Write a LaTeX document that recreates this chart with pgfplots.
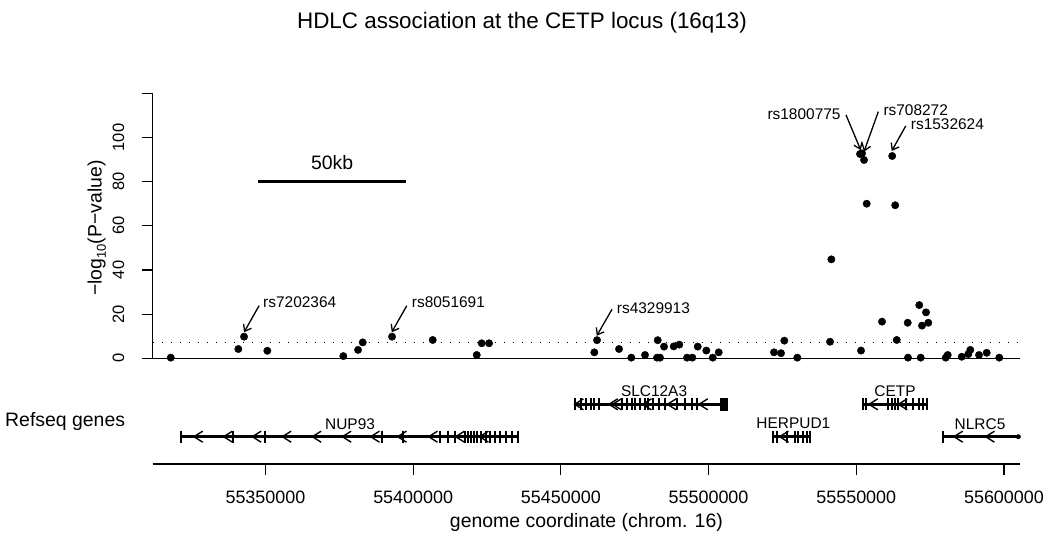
\documentclass[border=0pt]{standalone}
\usepackage{pgfplots}
\pgfplotsset{compat=1.18}
\usepackage{fontspec}
\setmainfont{Liberation Sans}
\usetikzlibrary{arrows.meta}
\pgfdeclareplotmark{chev}{%
  \pgfpathmoveto{\pgfqpoint{0.8\pgfplotmarksize}{\pgfplotmarksize}}%
  \pgfpathlineto{\pgfqpoint{-0.8\pgfplotmarksize}{0pt}}%
  \pgfpathlineto{\pgfqpoint{0.8\pgfplotmarksize}{-\pgfplotmarksize}}%
  \pgfusepathqstroke}
\newcommand{\fs}[1]{\fontsize{#1}{#1}\selectfont}
\begin{document}
\begin{tikzpicture}
\useasboundingbox (0bp,0bp) rectangle (1050bp,543bp);
% ---------------- top panel ----------------
\begin{axis}[
  at={(152.6bp,184.7bp)}, anchor=south west,
  scale only axis, width=867.6bp, height=265bp,
  xmin=55311800, xmax=55605500, ymin=0, ymax=120,
  scaled x ticks=false, scaled y ticks=false,
  axis x line=none, axis y line*=left,
  y axis line style={-, line width=1.2bp},
  ytick={0,20,40,60,80,100,120}, yticklabels={0,20,40,60,80,100,{}},
  tick align=outside, major tick length=11bp,
  ytick style={line width=1.2bp, black},
  yticklabel style={rotate=90, anchor=south, inner xsep=0pt, inner ysep=17bp, font=\fs{16.5}},
  ylabel={\char"2212 log\raisebox{-0.22em}{\fs{13}10}(P\char"2212 value)},
  ylabel style={at={(axis description cs:-0.0644,0.4917)}, anchor=center, font=\fs{19.5}},
  clip=false,
]
\addplot[line width=1.3bp, black] coordinates {(55311800,0) (55605500,0)};
\addplot[line width=1.2bp, black, dash pattern=on 1.3bp off 7.7bp] coordinates {(55311800,7.3) (55605500,7.3)};
% 50kb scale bar
\addplot[line width=2.6bp, black] coordinates {(55347600,80) (55397600,80)};
\node[font=\fs{19.5}, inner sep=0pt] at (axis cs:55372600,88.6) {50kb};
% association points
\addplot[only marks, mark=*, mark size=3.7bp, black] coordinates {
(55317944,0.3) (55340826,4.2) (55342756,9.8) (55350643,3.4) (55376370,1.0)
(55381345,3.8) (55382935,7.2) (55392854,9.8) (55406630,8.3) (55421525,1.5)
(55423218,6.8) (55425700,6.8) (55461334,2.7) (55462247,8.2) (55469694,4.2)
(55473857,0.3) (55478495,1.5) (55482794,8.2) (55482557,0.3) (55483573,0.3)
(55484926,5.3) (55488210,5.4) (55490106,6.2) (55492713,0.3) (55494507,0.3)
(55496335,5.3) (55499247,3.5) (55501413,0.3) (55503444,2.7) (55522161,2.7)
(55524531,2.3) (55525648,8.0) (55530048,0.3) (55541121,7.5) (55541572,44.8)
(55551270,92.5) (55551947,92.8) (55552624,89.8) (55553527,70.0) (55551609,3.5)
(55562169,91.6) (55563185,69.3) (55558723,16.6) (55563693,8.3) (55567513,0.3)
(55567412,16.1) (55571340,24.1) (55573614,20.8) (55572259,14.8) (55574394,16.1)
(55571815,0.3) (55580283,0.3) (55580960,1.5) (55585699,0.7) (55587933,1.9)
(55588610,3.8) (55591555,1.5) (55594157,2.5) (55598422,0.3)
};
% annotations
\begin{scope}[line width=1.3bp, -{Straight Barb[length=6bp,width=9bp]}]
\draw (axis cs:55347834,23.8) -- (axis cs:55342756,11.8);
\draw (axis cs:55397830,23.8) -- (axis cs:55392752,11.8);
\draw (axis cs:55467327,22.2) -- (axis cs:55462148,10.2);
\draw (axis cs:55546533,110.2) -- (axis cs:55551509,94.3);
\draw (axis cs:55557465,111.7) -- (axis cs:55552625,93.6);
\draw (axis cs:55566742,105.2) -- (axis cs:55562003,93.9);
\end{scope}
\begin{scope}[font=\fs{15.5}, inner sep=0pt]
\node[anchor=west] at (axis cs:55349188,25.5) {rs7202364};
\node[anchor=west] at (axis cs:55399523,25.5) {rs8051691};
\node[anchor=west] at (axis cs:55468919,22.9) {rs4329913};
\node[anchor=east] at (axis cs:55544742,110.5) {rs1800775};
\node[anchor=west] at (axis cs:55559159,112.5) {rs708272};
\node[anchor=west] at (axis cs:55568436,106) {rs1532624};
\end{scope}
\end{axis}
% ---------------- bottom panel (genes) ----------------
\begin{axis}[
  at={(152.6bp,79bp)}, anchor=south west,
  scale only axis, width=867.6bp, height=89bp,
  xmin=55311800, xmax=55605500, ymin=0, ymax=89,
  scaled x ticks=false,
  axis y line=none, axis x line*=bottom,
  x axis line style={-, line width=1.2bp},
  xtick={55350000,55400000,55450000,55500000,55550000,55600000},
  xticklabels={55350000,55400000,55450000,55500000,55550000,55600000},
  tick align=outside, major tick length=11bp,
  xtick style={line width=1.2bp, black},
  xticklabel style={anchor=north, inner xsep=0pt, inner ysep=16bp, font=\fs{18}},
  xlabel={genome coordinate (chrom. 16)},
  xlabel style={at={(axis description cs:0.5,0)}, anchor=center, yshift=-58bp, font=\fs{19.5}},
  clip=false,
]
% gene body lines
\addplot[line width=2.5bp, black] coordinates {(55321429,27.3) (55435612,27.3)};
\addplot[line width=2.5bp, black] coordinates {(55454806,59.7) (55506701,59.7)};
\addplot[line width=2.5bp, black] coordinates {(55521934,27.3) (55534358,27.3)};
\addplot[line width=2.5bp, black] coordinates {(55551859,59.7) (55574066,59.7)};
\addplot[line width=2.5bp, black] coordinates {(55579483,27.3) (55605500,27.3)};
% exons
\addplot[only marks, mark=|, mark size=6bp, mark options={line width=2bp}, black] coordinates {
(55321429,27.3) (55339134,27.3) (55349865,27.3) (55389370,27.3) (55396411,27.3)
(55409106,27.3) (55411712,27.3) (55414183,27.3) (55417569,27.3) (55418584,27.3)
(55419600,27.3) (55420615,27.3) (55421631,27.3) (55422985,27.3) (55424678,27.3)
(55426032,27.3) (55427724,27.3) (55429417,27.3) (55431448,27.3) (55433479,27.3)
(55435612,27.3)
(55454806,59.7) (55456837,59.7) (55458530,59.7) (55460222,59.7) (55461238,59.7)
(55463032,59.7) (55470615,59.7) (55472307,59.7) (55474000,59.7) (55475117,59.7)
(55476810,59.7) (55478502,59.7) (55479518,59.7) (55481312,59.7) (55483343,59.7)
(55485273,59.7) (55489233,59.7) (55492043,59.7) (55494311,59.7) (55496004,59.7)
(55521934,27.3) (55523085,27.3) (55526471,27.3) (55529280,27.3) (55530397,27.3)
(55532090,27.3) (55533241,27.3) (55534358,27.3)
(55552198,59.7) (55553315,59.7) (55560864,59.7) (55562015,59.7) (55563132,59.7)
(55564249,59.7) (55566856,59.7) (55569124,59.7) (55571358,59.7) (55572509,59.7)
(55573863,59.7)
(55579483,27.3)
};
% SLC12A3 terminal block
\addplot[fill=black, draw=black, line width=0.5bp] coordinates {
(55503891,53.7) (55506261,53.7) (55506261,65.7) (55503891,65.7) (55503891,53.7)};
% strand chevrons
\addplot[only marks, mark=chev, mark size=5.5bp, mark options={line width=1.4bp}, black] coordinates {
(55327285,27.3) (55337339,27.3) (55347055,27.3) (55357210,27.3) (55367366,27.3)
(55377522,27.3) (55387102,27.3) (55396242,27.3) (55406736,27.3) (55415876,27.3)
(55424000,27.3)
(55456160,59.7) (55467771,59.7) (55469024,59.7) (55479179,59.7) (55487541,59.7)
(55498238,59.7)
(55525555,27.3)
(55555786,59.7) (55565739,59.7)
(55584558,27.3) (55595292,27.3)
};
\addplot[only marks, mark=*, mark size=2.2bp, black] coordinates {(55604872,27.3)};
% gene names
\begin{scope}[font=\fs{15.5}, inner sep=0pt]
\node at (axis cs:55378639,40.3) {NUP93};
\node at (axis cs:55481549,72.7) {SLC12A3};
\node at (axis cs:55528705,40.3) {HERPUD1};
\node at (axis cs:55563132,72.7) {CETP};
\node at (axis cs:55591906,40.3) {NLRC5};
\end{scope}
\end{axis}
\node[anchor=west, inner sep=0pt, font=\fs{19.5}] at (5bp,122bp) {Refseq genes};
\node[anchor=base, inner sep=0pt, font=\fs{22.5}] at (522bp,514bp) {HDLC association at the CETP locus (16q13)};
\end{tikzpicture}
\end{document}
